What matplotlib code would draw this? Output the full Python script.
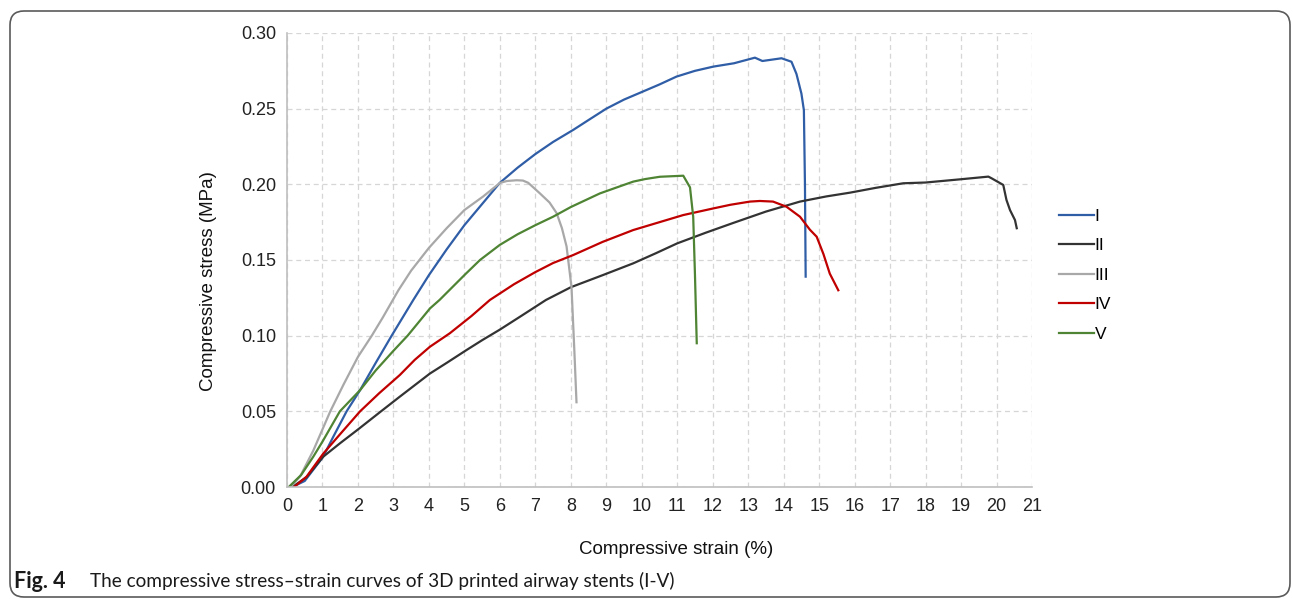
import matplotlib
matplotlib.use("Agg")
import matplotlib.pyplot as plt
from matplotlib.patches import FancyBboxPatch

# ── Data ────────────────────────────────────────────────────────────────────
labels = ["I", "II", "III", "IV", "V"]
colors = ["#2F5DA6", "#333333", "#A8A8A8", "#C00000", "#4E8433"]

strain_I = [0.15, 0.5, 1.02, 1.3, 1.68, 2.06, 2.5, 2.95, 3.56, 4.0, 4.5, 5.0, 5.5, 6.0,
            6.5, 7.0, 7.5, 8.07, 8.5, 9.0, 9.5, 10.0, 10.5, 10.98, 11.5, 12.02, 12.6,
            13.19, 13.4, 13.7, 13.94, 14.22, 14.36, 14.5, 14.57, 14.6, 14.62]
stress_I = [0.0, 0.004, 0.020, 0.033, 0.050, 0.064, 0.082, 0.100, 0.1236, 0.140, 0.157,
            0.173, 0.187, 0.201, 0.211, 0.220, 0.228, 0.236, 0.2425, 0.250, 0.256, 0.261,
            0.266, 0.2712, 0.275, 0.2778, 0.280, 0.2837, 0.2815, 0.2825, 0.2833, 0.281,
            0.273, 0.260, 0.249, 0.200, 0.139]

strain_II = [0.15, 0.55, 1.02, 1.5, 2.0, 2.65, 3.18, 4.03, 4.5, 5.06, 5.5, 6.0, 6.6, 7.3,
             8.0, 8.9, 9.76, 10.4, 11.0, 11.8, 12.58, 13.5, 14.46, 15.2, 15.87, 16.6,
             17.37, 18.0, 18.97, 19.77, 19.86, 20.19, 20.28, 20.38, 20.52, 20.57]
stress_II = [0.0, 0.0065, 0.020, 0.029, 0.038, 0.050, 0.0597, 0.075, 0.082, 0.0905, 0.097,
             0.104, 0.113, 0.1236, 0.132, 0.140, 0.1478, 0.1545, 0.1610, 0.168, 0.1745,
             0.182, 0.1886, 0.192, 0.1945, 0.1977, 0.2007, 0.2012, 0.2033, 0.2051, 0.204,
             0.1996, 0.1897, 0.183, 0.1764, 0.171]

strain_III = [0.1, 0.37, 0.74, 1.22, 1.6, 2.0, 2.39, 2.7, 3.14, 3.5, 4.0, 4.5, 5.0, 5.53,
              6.0, 6.2, 6.47, 6.65, 6.8, 7.13, 7.4, 7.6, 7.75, 7.88, 8.02, 8.1, 8.16]
stress_III = [0.0, 0.007, 0.024, 0.050, 0.068, 0.086, 0.100, 0.112, 0.130, 0.143, 0.158,
              0.171, 0.183, 0.192, 0.2009, 0.2022, 0.2027, 0.2025, 0.201, 0.194, 0.188,
              0.181, 0.171, 0.159, 0.132, 0.090, 0.056]

strain_IV = [0.2, 0.55, 1.02, 1.5, 2.06, 2.6, 3.18, 3.6, 4.03, 4.59, 5.2, 5.72, 6.4, 7.0,
             7.5, 8.07, 8.9, 9.76, 10.5, 11.17, 12.0, 12.5, 13.05, 13.33, 13.7, 14.08,
             14.46, 14.74, 14.93, 15.12, 15.3, 15.54]
stress_IV = [0.0, 0.0068, 0.022, 0.035, 0.050, 0.062, 0.074, 0.084, 0.0927, 0.1016, 0.113,
             0.1236, 0.134, 0.142, 0.148, 0.1533, 0.162, 0.1698, 0.175, 0.1797, 0.184,
             0.1865, 0.1886, 0.189, 0.1886, 0.1852, 0.1786, 0.170, 0.1654, 0.154, 0.141,
             0.130]

strain_V = [0.05, 0.4, 0.74, 1.0, 1.49, 2.06, 2.5, 3.0, 3.4, 4.03, 4.3, 5.0, 5.44, 6.0,
            6.5, 7.0, 7.5, 8.0, 8.82, 9.3, 9.76, 10.1, 10.51, 11.17, 11.36, 11.45, 11.5,
            11.55]
stress_V = [0.0, 0.008, 0.020, 0.030, 0.050, 0.064, 0.077, 0.090, 0.100, 0.118, 0.1236,
            0.140, 0.150, 0.160, 0.167, 0.173, 0.1786, 0.185, 0.194, 0.198, 0.2018, 0.2035,
            0.205, 0.2057, 0.198, 0.1786, 0.140, 0.095]

xticks = list(range(0, 22))
yticks = [0.0, 0.05, 0.10, 0.15, 0.20, 0.25, 0.30]

series = [(strain_I, stress_I), (strain_II, stress_II), (strain_III, stress_III),
          (strain_IV, stress_IV), (strain_V, stress_V)]

# ── Figure ──────────────────────────────────────────────────────────────────
plt.rcParams["font.family"] = ["Liberation Sans", "DejaVu Sans"]
W, H = 1293, 599
fig = plt.figure(figsize=(W / 100, H / 100), dpi=100, facecolor="white")

# rounded frame around the figure
frame = FancyBboxPatch((10 / 100, 2 / 100), 1280 / 100, 586 / 100,
                       boxstyle="round,pad=0,rounding_size=0.14",
                       transform=fig.dpi_scale_trans, fill=False,
                       edgecolor="#5A5A5A", linewidth=1.2)
fig.patches.append(frame)

ax = fig.add_axes([287 / W, 1 - 487 / H, (1032 - 287) / W, (487 - 33) / H])
for (x, y), c, lab in zip(series, colors, labels):
    ax.plot(x, y, color=c, lw=1.6, label=lab, solid_joinstyle="round")

ax.set_xlim(0, 21)
ax.set_ylim(0, 0.30)
ax.set_xticks(xticks)
ax.set_yticks(yticks)
ax.set_yticklabels([f"{v:.2f}" for v in yticks])
ax.tick_params(length=0, labelsize=13, colors="#222222", pad=8)
ax.grid(True, color="#D6D6D6", ls=(0, (4, 3)), lw=0.9)
for sp in ["top", "right"]:
    ax.spines[sp].set_visible(False)
for sp in ["bottom", "left"]:
    ax.spines[sp].set_color("#BFBFBF")
    ax.spines[sp].set_linewidth(1.2)

fig.text(676 / W, 1 - 549 / H, "Compressive strain (%)", ha="center", va="center",
         fontsize=13.5, color="#111111")
fig.text(208 / W, 1 - 281 / H, "Compressive stress (MPa)", ha="center", va="center",
         rotation=90, fontsize=13.5, color="#111111")

fig.legend(loc="upper left", bbox_to_anchor=(1052 / W, 1 - 202 / H), frameon=False,
           fontsize=12.5, handlelength=2.0, handletextpad=0.05, labelspacing=0.82,
           borderaxespad=0)

fig.text(14 / W, 1 - 581 / H, "Fig. 4", ha="left", va="center", fontsize=15.5,
         fontweight="bold", family=["Lato", "DejaVu Sans"], color="#1A1A1A")
fig.text(90 / W, 1 - 581 / H, "The compressive stress\u2013strain curves of 3D printed airway stents (I-V)",
         ha="left", va="center", fontsize=13.7, family=["Lato", "DejaVu Sans"], color="#1A1A1A")

fig.savefig("out.png", dpi=100, facecolor="white")
